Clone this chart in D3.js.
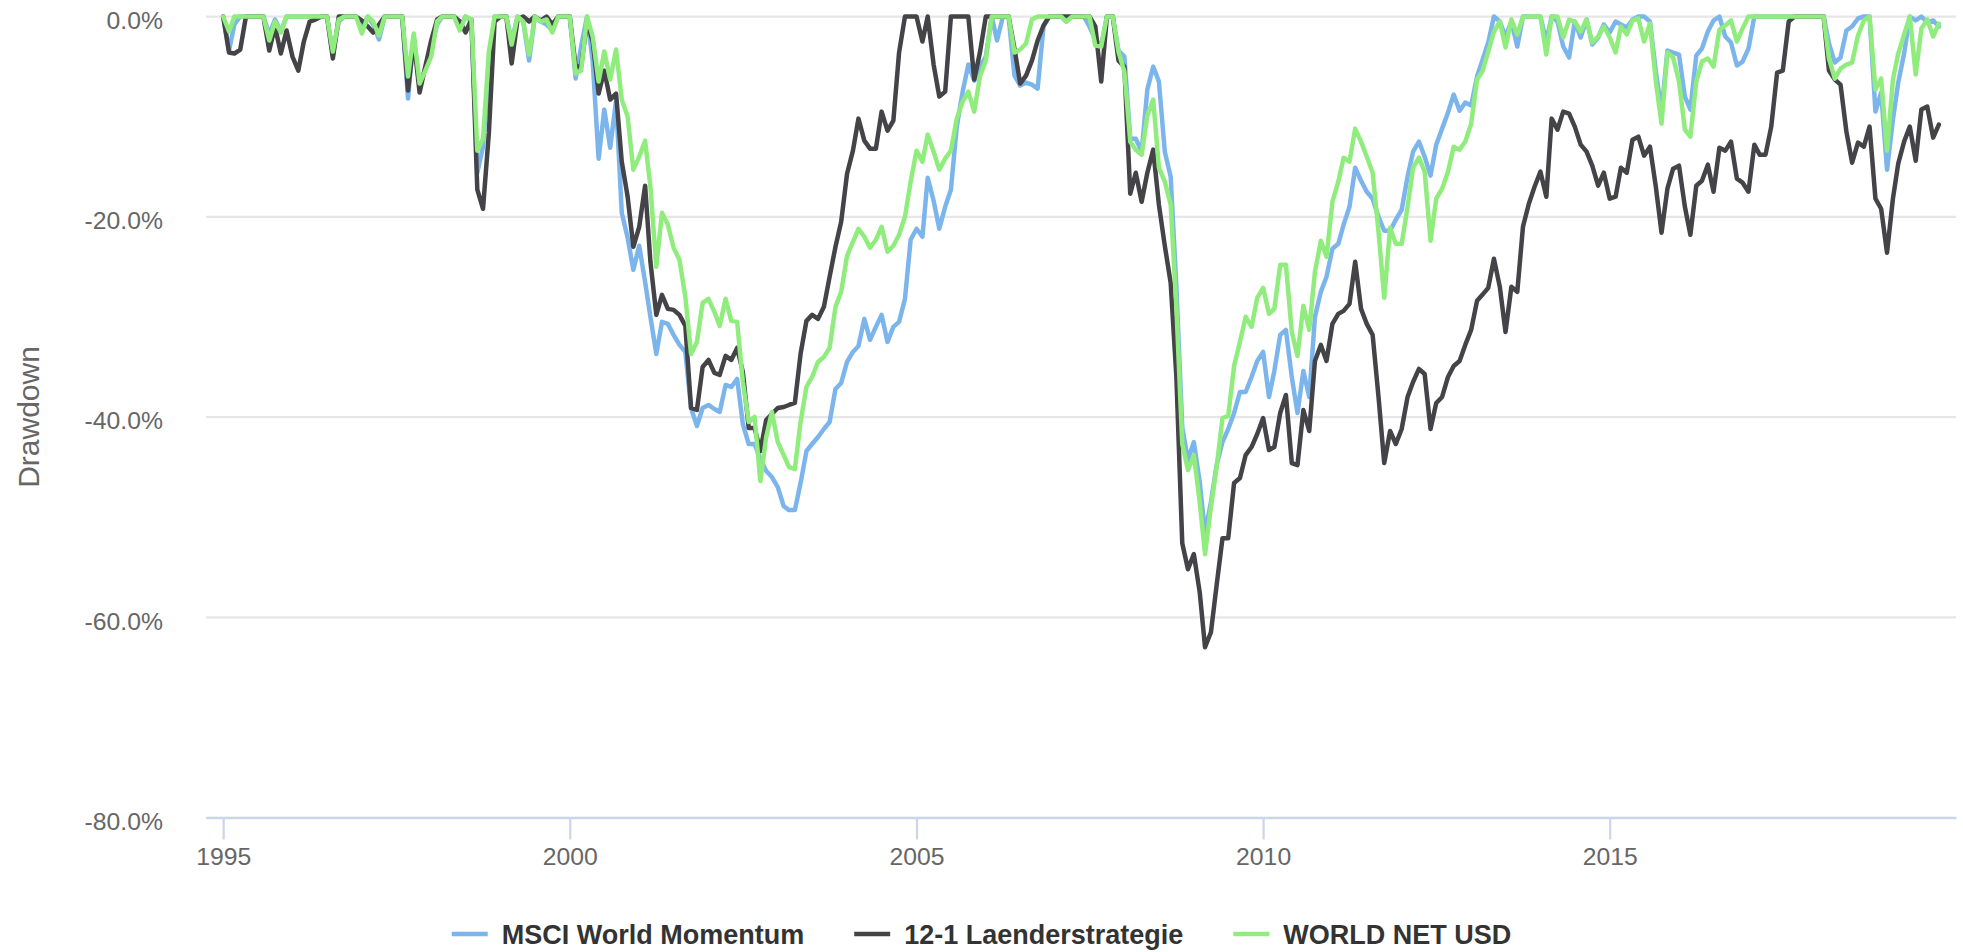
<!DOCTYPE html>
<html>
<head>
<meta charset="utf-8">
<script src="https://cdn.jsdelivr.net/npm/d3@7"></script>
<style>
  html, body { margin: 0; padding: 0; background: #ffffff; }
  svg { display: block; }
  text { font-family: "Liberation Sans", Arial, Helvetica, sans-serif; }
</style>
</head>
<body>
<svg id="chart" width="1963" height="952"></svg>
<script>
// ---------------- data ----------------
const seriesNames = ["MSCI World Momentum", "12-1 Laenderstrategie", "WORLD NET USD"];
const seriesColors = ["#7cb5ec", "#434348", "#90ed7d"];
// monthly month-end values, first point = end of Dec 1994, last = end of Sep 2019
const firstMonth = "1995-01-01";
const yTickValues = [0, -20, -40, -60, -80];
const xTickYears = [1995, 2000, 2005, 2010, 2015];
const yAxisTitle = "Drawdown";

const momentum = [
  0,
  -3.4, -0.8, 0, 0, 0, 0, 0, -1.8, -0.3, -1.5, 0, 0,
  0, 0, 0, 0, 0, 0, -3.8, -0.5, 0, 0, 0, -1.2,
  0, -0.8, -2.3, 0, 0, 0, 0, -8.2, -2.0, -7.0, -5.2, -3.2,
  -0.8, 0, 0, 0, -1.0, 0, -0.5, -15.6, -13.0, -5.0, 0, 0,
  0, -2.5, 0, -0.5, -4.4, 0, -0.5, -0.8, -1.4, 0, 0, 0,
  -6.2, -3.0, 0, -4.5, -14.2, -9.3, -13.1, -8.4, -19.6, -22.1, -25.3, -22.9,
  -26.5, -30.0, -33.7, -30.5, -30.7, -31.8, -32.8, -33.5, -39.1, -40.9, -39.1, -38.8,
  -39.2, -39.5, -36.8, -37.0, -36.2, -40.7, -42.7, -42.7, -44.2, -45.4, -46.0, -47.0,
  -48.9, -49.3, -49.3, -46.6, -43.4, -42.7, -42.0, -41.2, -40.5, -37.2, -36.6, -34.5,
  -33.5, -32.9, -30.2, -32.3, -31.0, -29.8, -32.5, -31.0, -30.5, -28.2, -22.3, -21.2,
  -22.0, -16.1, -18.4, -21.2, -19.0, -17.3, -11.0, -7.5, -4.8, -6.4, -5.0, -4.0,
  0, -2.4, 0, 0, -5.9, -6.9, -6.6, -6.8, -7.2, -1.0, 0, 0,
  0, -0.5, 0, 0, 0, -1.0, -2.3, -2.9, 0, 0, -3.4, -4.0,
  -12.2, -12.2, -13.5, -7.3, -5.0, -6.5, -13.5, -16.0, -27.0, -41.0, -44.3, -42.5,
  -46.5, -51.6, -48.5, -44.8, -42.5, -41.2, -39.6, -37.5, -37.5, -36.0, -34.4, -33.5,
  -38.0, -35.4, -31.8, -31.3, -36.0, -39.6, -35.4, -38.0, -30.0, -27.5, -26.0, -23.2,
  -22.7, -20.8, -19.0, -15.1, -16.4, -17.5, -18.2, -20.0, -21.4, -21.4, -20.3, -19.3,
  -16.0, -13.5, -12.5, -14.0, -15.9, -12.8, -11.2, -9.6, -7.8, -9.4, -8.6, -8.9,
  -6.0, -4.4, -2.6, 0, -0.5, -2.0, -0.5, -3.0, 0, 0, 0, 0,
  -2.5, 0, -0.5, -3.0, -4.1, -0.5, -2.1, -0.3, -2.8, -2.1, -0.8, -1.6,
  -0.5, -0.8, -1.1, -0.3, 0, 0, -0.5, -5.5, -9.5, -3.4, -3.6, -3.8,
  -8.0, -9.3, -3.9, -3.2, -1.5, -0.4, 0, -2.0, -2.6, -4.9, -4.5, -3.2,
  0, 0, 0, 0, 0, 0, 0, 0, 0, 0, 0, 0,
  0, -2.7, -4.6, -4.1, -1.4, -1.0, -0.2, 0, 0, -9.5, -7.6, -15.3,
  -10.3, -6.6, -3.7, 0, -0.4, 0, -0.6, -0.4, -1.0
];

const laender = [
  0,
  -3.6, -3.7, -3.3, 0, 0, 0, 0, -3.4, -1.0, -3.7, -1.4, -4.0,
  -5.4, -2.5, -0.5, -0.3, 0, 0, -4.2, 0, 0, 0, 0, -0.4,
  -1.0, -1.6, -0.8, 0, 0, 0, 0, -7.4, -2.3, -7.6, -5.0, -2.4,
  -0.3, 0, 0, 0, -0.5, -1.6, -0.3, -17.3, -19.2, -11.6, -0.5, 0,
  0, -4.7, -0.3, 0, -0.5, 0, -0.4, 0, -0.8, 0, 0, 0,
  -5.0, -5.0, -0.5, -2.5, -7.7, -5.4, -8.3, -7.7, -14.5, -18.0, -23.0, -21.0,
  -16.9, -24.5, -29.8, -27.8, -29.2, -29.3, -29.8, -30.9, -39.1, -39.3, -35.0, -34.3,
  -35.6, -35.8, -33.9, -34.3, -33.1, -35.5, -41.1, -41.1, -43.4, -40.3, -39.7, -39.1,
  -39.0, -38.8, -38.6, -33.7, -30.4, -29.8, -30.2, -29.0, -26.0, -23.0, -20.5, -15.7,
  -13.4, -10.2, -12.4, -13.2, -13.2, -9.5, -11.4, -10.4, -3.6, 0, 0, 0,
  -2.5, 0, -4.8, -8.0, -7.5, 0, 0, 0, 0, -6.3, -3.6, 0,
  0, 0, 0, 0, -3.2, -6.7, -5.9, -4.4, -2.4, -0.9, 0, 0,
  0, 0, 0, 0, 0, 0, -1.0, -6.5, 0, 0, -4.4, -5.0,
  -17.7, -15.6, -18.5, -15.6, -13.3, -18.8, -22.9, -26.6, -36.0, -52.6, -55.2, -53.7,
  -57.5, -63.0, -61.5, -56.8, -52.1, -52.1, -46.6, -46.1, -43.8, -43.0, -41.7, -40.1,
  -43.3, -43.0, -39.6, -37.8, -44.6, -44.8, -39.3, -41.4, -34.4, -32.8, -34.4, -30.7,
  -29.7, -29.4, -28.7, -24.5, -29.2, -30.7, -31.8, -38.0, -44.6, -41.4, -42.7, -41.2,
  -38.0, -36.5, -35.2, -35.7, -41.2, -38.6, -38.0, -36.0, -34.9, -34.4, -32.8, -31.3,
  -28.4, -27.8, -27.1, -24.2, -27.0, -31.5, -27.0, -27.5, -21.0, -18.7, -17.0, -15.5,
  -18.0, -10.2, -11.3, -9.5, -9.7, -11.0, -12.8, -13.5, -14.9, -16.9, -15.6, -18.2,
  -18.0, -15.1, -15.6, -12.3, -12.0, -13.9, -13.0, -17.0, -21.6, -17.2, -15.2, -14.9,
  -19.0, -21.8, -16.9, -16.4, -14.8, -17.5, -13.1, -13.4, -12.5, -16.2, -16.6, -17.5,
  -12.8, -13.8, -13.8, -11.0, -5.6, -5.4, -0.5, 0, 0, 0, 0, 0,
  0, -5.4, -6.3, -6.8, -11.5, -14.6, -12.6, -13.0, -11.0, -18.2, -19.2, -23.6,
  -18.2, -14.7, -12.5, -11.0, -14.4, -9.3, -9.0, -12.1, -10.8
];

const worldNet = [
  0,
  -1.5, 0, 0, 0, 0, 0, 0, -2.4, -0.5, -1.6, 0, 0,
  0, 0, 0, 0, 0, 0, -3.5, -0.3, 0, 0, 0, -1.7,
  0, -0.5, -1.9, 0, 0, 0, 0, -6.0, -1.7, -6.7, -5.4, -4.0,
  -0.5, 0, 0, 0, -1.4, 0, -0.3, -13.4, -12.2, -3.5, 0, 0,
  0, -2.8, 0, -0.5, -3.8, 0, -0.5, -0.3, -1.6, 0, 0, 0,
  -5.7, -5.4, 0, -2.0, -6.5, -3.5, -6.3, -3.3, -8.3, -10.0, -15.3, -14.0,
  -12.4, -17.0, -25.0, -19.6, -20.8, -23.1, -24.3, -28.0, -33.7, -32.5, -28.6, -28.2,
  -29.5, -30.9, -28.2, -30.4, -30.5, -36.5, -40.5, -40.0, -46.4, -42.0, -39.5, -42.5,
  -43.8, -45.0, -45.2, -40.5, -37.0, -36.0, -34.5, -34.0, -33.1, -29.0, -27.5, -23.9,
  -22.5, -21.2, -22.0, -23.1, -22.3, -21.0, -23.5, -22.9, -21.8, -20.0, -16.5, -13.4,
  -14.5, -11.8, -13.5, -15.3, -14.2, -13.4, -10.2, -8.5, -7.5, -9.5, -6.0, -4.4,
  0, 0, 0, 0, -3.6, -3.3, -2.7, -0.3, 0, 0, 0, 0,
  0, -0.5, 0, 0, 0, 0, -2.9, -3.0, 0, 0, -3.5, -5.5,
  -12.5, -13.3, -13.8, -9.9, -8.3, -15.1, -16.5, -18.8, -29.0, -42.7, -45.3, -43.8,
  -48.5, -53.7, -49.0, -45.0, -40.1, -39.9, -34.9, -32.5, -30.0, -31.0, -28.1, -27.1,
  -29.7, -29.2, -24.8, -24.8, -31.5, -33.9, -28.9, -31.3, -25.5, -22.4, -24.0, -18.5,
  -16.5, -14.1, -14.5, -11.2, -12.5, -14.0, -15.6, -21.5, -28.1, -21.1, -22.7, -22.7,
  -19.0, -15.1, -14.1, -15.5, -22.4, -18.2, -17.2, -15.5, -13.0, -13.3, -12.5, -10.7,
  -6.3, -5.5, -3.5, -1.5, -0.5, -3.1, -0.3, -1.8, 0, 0, 0, 0,
  -3.8, 0, 0, -2.1, -0.3, -0.5, -1.5, -0.3, -2.6, -2.0, -1.0, -2.1,
  -3.6, -1.0, -1.8, -0.4, -0.2, -2.5, -0.7, -6.5, -10.7, -3.6, -4.1, -6.5,
  -11.3, -12.0, -6.5, -4.5, -4.2, -5.0, -1.3, -0.9, -0.4, -2.5, -1.2, 0,
  0, 0, 0, 0, 0, 0, 0, 0, 0, 0, 0, 0,
  0, -4.2, -6.2, -5.2, -4.8, -4.6, -1.9, -0.4, 0, -7.3, -6.2, -13.4,
  -6.3, -3.7, -1.8, 0, -5.8, -1.2, -0.3, -2.0, -0.7
];

// ---------------- layout ----------------
const W = 1963, H = 952;
const plot = { left: 206, right: 1956, top: 16.5, bottom: 817.5 };
const labelFont = 24.75, titleFont = 30, legendFont = 27;
const FONT = '"Liberation Sans", Arial, Helvetica, sans-serif';

const svg = d3.select("#chart");
const t0 = d3.utcParse("%Y-%m-%d")(firstMonth);
const dates = momentum.map((_, i) => d3.utcMonth.offset(t0, i));
const tStart = dates[0].getTime(), tEnd = dates[dates.length - 1].getTime();
const pad = (tEnd - tStart) * 0.01;

const x = d3.scaleUtc()
  .domain([new Date(tStart - pad), new Date(tEnd + pad)])
  .range([plot.left, plot.right]);
const y = d3.scaleLinear().domain([-80, 0]).range([plot.bottom, plot.top]);

// grid lines
svg.append("g").selectAll("line").data(yTickValues).join("line")
  .attr("x1", plot.left).attr("x2", plot.right)
  .attr("y1", d => y(d)).attr("y2", d => y(d))
  .attr("stroke", "#e6e6e6").attr("stroke-width", 2.25);

// y axis labels
const yAxis = d3.axisLeft(y).tickValues(yTickValues)
  .tickFormat(v => v.toFixed(1) + "%").tickSize(0).tickPadding(43);
const gy = svg.append("g").attr("transform", `translate(${plot.left},0)`).call(yAxis);
gy.select(".domain").remove();
gy.selectAll("text").attr("font-size", labelFont).attr("fill", "#666666")
  .attr("dy", "0.48em").style("font-family", FONT);

// x axis
const xAxis = d3.axisBottom(x)
  .tickValues(xTickYears.map(yr => new Date(Date.UTC(yr, 0, 1))))
  .tickFormat(d3.utcFormat("%Y")).tickSize(22).tickSizeOuter(0).tickPadding(8);
const gx = svg.append("g").attr("transform", `translate(0,${plot.bottom})`).call(xAxis);
gx.select(".domain").attr("stroke", "#ccd6eb").attr("stroke-width", 2.25);
gx.selectAll(".tick line").attr("stroke", "#ccd6eb").attr("stroke-width", 2.25);
gx.selectAll("text").attr("font-size", labelFont).attr("fill", "#666666")
  .style("font-family", FONT);

// y axis title
svg.append("text")
  .attr("transform", `translate(39,${(plot.top + plot.bottom) / 2}) rotate(-90)`)
  .attr("text-anchor", "middle").attr("font-size", titleFont).attr("fill", "#666666")
  .text(yAxisTitle);

// lines
const allSeries = [momentum, laender, worldNet];
const line = d3.line().x((d, i) => x(dates[i])).y(d => y(d));
allSeries.forEach((vals, k) => {
  svg.append("path").datum(vals)
    .attr("d", line)
    .attr("fill", "none")
    .attr("stroke", seriesColors[k])
    .attr("stroke-width", 4.5)
    .attr("stroke-linejoin", "round")
    .attr("stroke-linecap", "round");
});

// legend
const legendY = 934, symW = 36, symPad = 14, itemGap = 50;
const lg = svg.append("g");
const items = seriesNames.map((name, k) => {
  const g = lg.append("g");
  g.append("line").attr("x1", 0).attr("x2", symW).attr("y1", 0).attr("y2", 0)
    .attr("stroke", seriesColors[k]).attr("stroke-width", 4.5);
  const t = g.append("text").attr("x", symW + symPad).attr("y", legendFont * 0.36)
    .attr("font-size", legendFont).attr("font-weight", "bold").attr("fill", "#333333")
    .text(name);
  const w = symW + symPad + t.node().getComputedTextLength();
  return { g, w };
});
const total = d3.sum(items, d => d.w) + itemGap * (items.length - 1);
let cx = (W - total) / 2;
items.forEach(it => {
  it.g.attr("transform", `translate(${cx},${legendY})`);
  cx += it.w + itemGap;
});
</script>
</body>
</html>
